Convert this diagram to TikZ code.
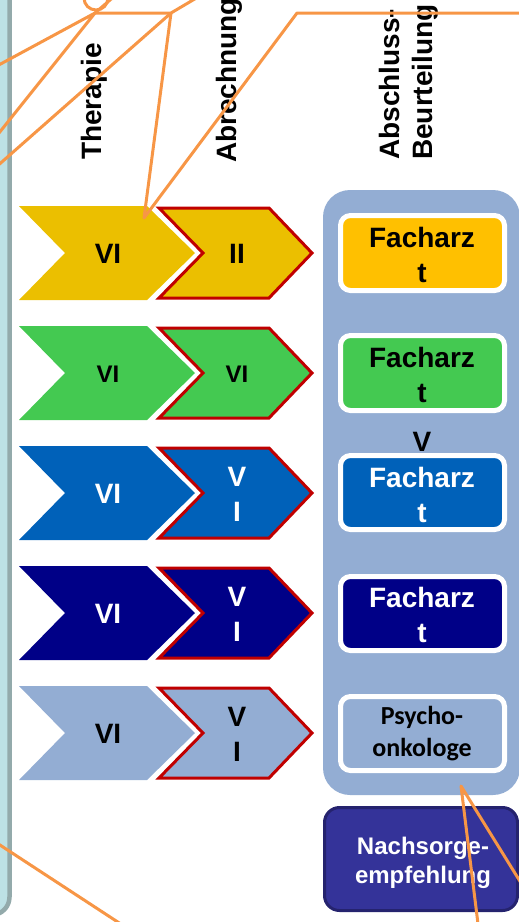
\documentclass[tikz,border=0pt]{standalone}
\usepackage{fontspec}
\setmainfont{Liberation Sans}
\newfontfamily\carlitofont{Carlito}
\definecolor{cyanpanel}{HTML}{BDE1E5}
\definecolor{cyanborder}{HTML}{93AAAB}
\definecolor{cyel}{HTML}{EBBF00}
\definecolor{byel}{HTML}{FFC000}
\definecolor{cgrn}{HTML}{44C951}
\definecolor{cblu}{HTML}{0061B9}
\definecolor{cnav}{HTML}{000087}
\definecolor{clgt}{HTML}{93ADD3}
\definecolor{redb}{HTML}{C00000}
\definecolor{orng}{HTML}{F79646}
\definecolor{purp}{HTML}{343399}
\definecolor{purpb}{HTML}{25236E}
\newcommand{\rowchev}[2]{%
  \fill[#2] (19,#1-47) -- (147,#1-47) -- (195,#1) -- (147,#1+47) -- (19,#1+47) -- (65,#1) -- cycle;
  \draw[fill=#2, draw=redb, line width=3pt, line join=miter] (159,#1-45) -- (269,#1-45) -- (312,#1) -- (269,#1+45) -- (159,#1+45) -- (203,#1) -- cycle;
}
\begin{document}
\begin{tikzpicture}[x=1pt,y=-1pt,
  big/.style={font=\bfseries\fontsize{28}{35}\selectfont, inner sep=0pt, align=center},
  mid/.style={font=\bfseries\fontsize{24}{29}\selectfont, inner sep=0pt, align=center},
  head/.style={font=\bfseries\fontsize{28}{33}\selectfont, inner sep=0pt, rotate=90},
  ibox/.style={draw=white, line width=5pt, rounded corners=10pt},
  orline/.style={draw=orng, line width=3pt, line join=round, line cap=round}]
\useasboundingbox (0,0) rectangle (519,922);
\clip (0,0) rectangle (519,922);
% left panel
\draw[fill=cyanpanel, draw=cyanborder, line width=4.5pt, rounded corners=18pt] (-40,-40) rectangle (9.5,915);
% headings
\node[head, anchor=base west] (h1) at (101,160) {Therapie};
\node[head, anchor=base west] (h2) at (236,163) {Abrechnung};
\node[head, anchor=south west, align=left] (h3) at (439,160) {Abschluss-\\Beurteilung};
% chevrons
\rowchev{253}{cyel}
\rowchev{373}{cgrn}
\rowchev{493}{cblu}
\rowchev{613}{cnav}
\rowchev{733}{clgt}
\node[big, text=black] (l1) at (108,254) {VI};
\node[mid, text=black] (l2) at (108,374) {VI};
\node[big, text=white] (l3) at (108,494) {VI};
\node[big, text=white] (l4) at (108,614) {VI};
\node[big, text=black] (l5) at (108,734) {VI};
\node[big, text=black] (r1) at (237,254) {II};
\node[mid, text=black] (r2) at (237,374) {VI};
\node[big, text=white] (r3) at (237,494) {V\\I};
\node[big, text=white] (r4) at (237,614) {V\\I};
\node[big, text=black] (r5) at (237,734) {V\\I};
% right container
\fill[clgt, rounded corners=27pt] (323,190) rectangle (520,795);
\draw[ibox, fill=byel] (340.5,215.5) rectangle (504.5,290.5);
\draw[ibox, fill=cgrn] (340.5,335.5) rectangle (504.5,410.5);
\draw[ibox, fill=cblu] (340.5,455.5) rectangle (504.5,529.5);
\draw[ibox, fill=cnav] (340.5,576.5) rectangle (504.5,650.5);
\draw[ibox, fill=clgt] (340.5,696.5) rectangle (504.5,770.5);
\node[big, text=black] (f1) at (422,255) {Facharz\\t};
\node[big, text=black] (f2) at (422,375) {Facharz\\t};
\node[big, text=black] (v) at (422,442) {V};
\node[big, text=white] (f3) at (422,495) {Facharz\\t};
\node[big, text=white] (f4) at (422,615) {Facharz\\t};
\node[font=\carlitofont\bfseries\fontsize{26}{32}\selectfont, inner sep=0pt, align=center, text=black] (f5) at (422,734) {Psycho-\\onkologe};
% Nachsorge box
\draw[fill=purp, draw=purpb, line width=3pt, rounded corners=15pt] (324.5,807.5) rectangle (517.5,910.5);
\node[mid, text=white] (ns) at (423,863) {Nachsorge-\\empfehlung};
% orange lines
\coordinate (c0) at (96,-2);
\coordinate (j1) at (95,13);
\coordinate (j2) at (171,13);
\coordinate (j3) at (297,13);
\coordinate (tp) at (144,218);
\coordinate (a1) at (-5,67);
\coordinate (a2) at (-5,138);
\coordinate (a3) at (-5,168);
\coordinate (b1) at (125,-13);
\coordinate (b2) at (215,-13);
\coordinate (b3) at (530,13);
\coordinate (c1) at (-10,838.5);
\coordinate (c2) at (130,930);
\coordinate (p) at (461,786);
\coordinate (p1) at (479,932);
\coordinate (p2) at (526,891);
\draw[orline] (c0) circle [radius=12pt];
\draw[orline] (a1) -- (j1) -- (a2);
\draw[orline] (j1) -- (b1);
\draw[orline] (j1) -- (j2) -- (b2);
\draw[orline] (a3) -- (j2) -- (tp) -- (j3) -- (b3);
\draw[orline] (c1) -- (c2);
\draw[orline] (p1) -- (p) -- (p2);
\end{tikzpicture}
\end{document}
